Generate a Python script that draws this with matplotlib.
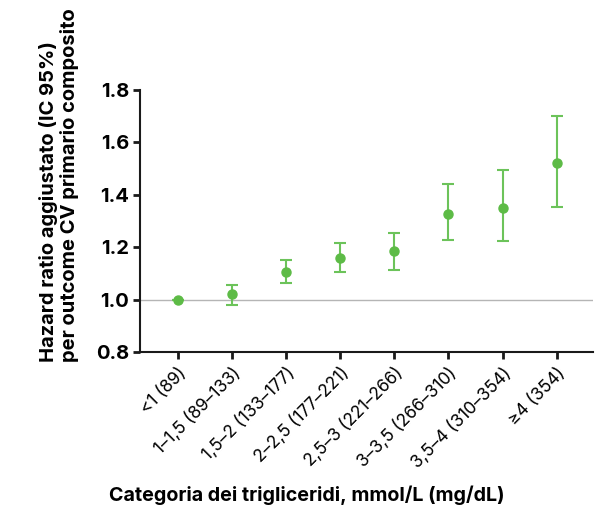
import matplotlib
matplotlib.use("Agg")
import matplotlib.pyplot as plt

categories = ["<1 (89)", "1–1,5 (89–133)", "1,5–2 (133–177)", "2–2,5 (177–221)",
              "2,5–3 (221–266)", "3–3,5 (266–310)", "3,5–4 (310–354)", "≥4 (354)"]
hr = [1.00, 1.02, 1.107, 1.16, 1.187, 1.327, 1.35, 1.523]
lower = [1.00, 0.98, 1.064, 1.104, 1.112, 1.228, 1.224, 1.352]
upper = [1.00, 1.055, 1.15, 1.216, 1.256, 1.44, 1.495, 1.703]
yticks = [0.8, 1.0, 1.2, 1.4, 1.6, 1.8]

plt.rcParams['font.family'] = ['Inter', 'DejaVu Sans']

fig = plt.figure(figsize=(6.02, 5.09), dpi=100)
ax = fig.add_axes([0.2326, 0.3084, 0.7524, 0.5146])

x = list(range(len(categories)))
yerr_lo = [h - l for h, l in zip(hr, lower)]
yerr_hi = [u - h for h, u in zip(hr, upper)]

ax.axhline(1.0, color="#b5b5b5", lw=1.0, zorder=1)
ax.errorbar(x, hr, yerr=[yerr_lo, yerr_hi], fmt='o', color="#5dbb46",
            ecolor="#6cc35a", elinewidth=1.5, capsize=4, capthick=1.5,
            markersize=6.5, zorder=3)

ax.set_ylim(0.8, 1.8)
ax.set_xlim(-0.70, 7.67)
ax.set_yticks(yticks)
ax.set_yticklabels([f"{v:.1f}" for v in yticks], fontsize=14.5, fontweight='bold')
ax.set_xticks(x)
ax.set_xticklabels(categories, rotation=45, ha='right', rotation_mode='anchor',
                   fontsize=12.5)

for s in ['top', 'right']:
    ax.spines[s].set_visible(False)
for s in ['left', 'bottom']:
    ax.spines[s].set_linewidth(1.5)
    ax.spines[s].set_color('#1a1a1a')
ax.tick_params(axis='both', length=5, width=2, color='#1a1a1a')
ax.tick_params(axis='x', pad=4)
ax.tick_params(axis='y', pad=3)

fig.text(0.098, 0.289, "Hazard ratio aggiustato (IC 95%)\nper outcome CV primario composito",
         rotation=90, ha='center', va='bottom', multialignment='left',
         fontsize=14.5, fontweight='bold', linespacing=1.15)
fig.text(0.509, 0.0275, "Categoria dei trigliceridi, mmol/L (mg/dL)",
         ha='center', va='center', fontsize=14.2, fontweight='bold')

fig.savefig("out.png", dpi=100)
